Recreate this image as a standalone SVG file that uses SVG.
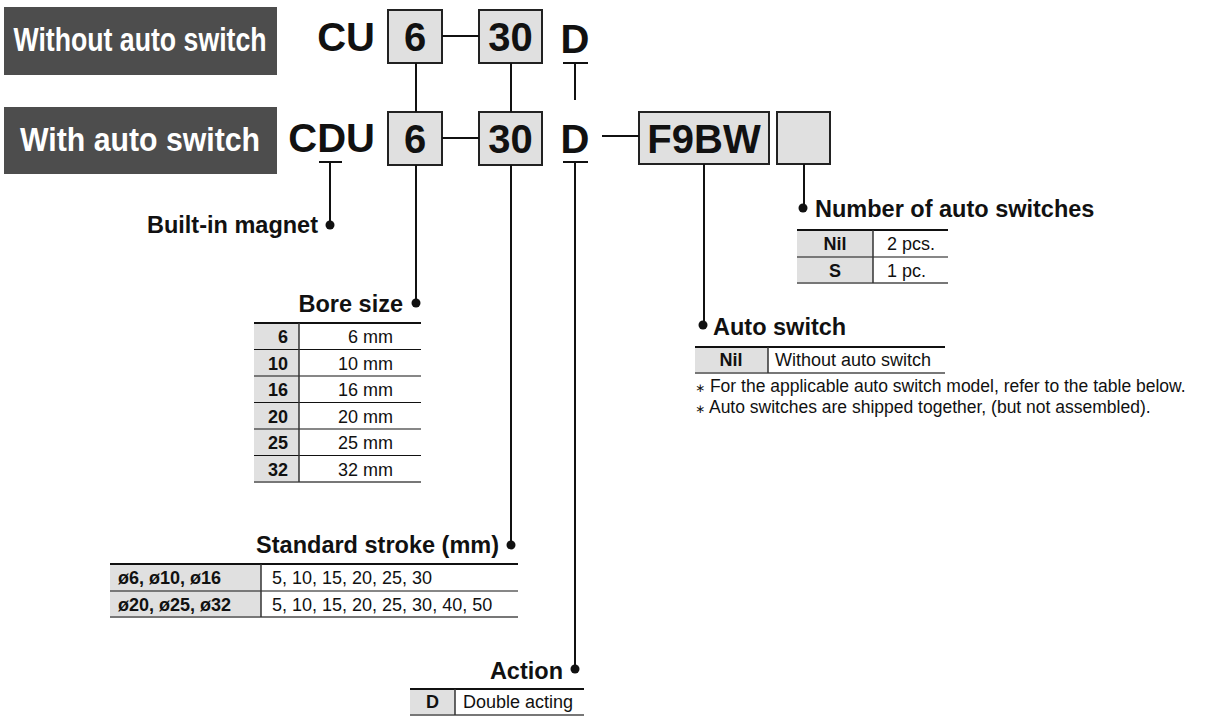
<svg xmlns="http://www.w3.org/2000/svg" width="1222" height="716" viewBox="0 0 1222 716">
<style>
.ttl{font-family:"Liberation Sans",Arial,sans-serif;font-weight:bold;font-size:34px;fill:#fff;text-anchor:middle}
.big{font-family:"Liberation Sans",Arial,sans-serif;font-weight:bold;font-size:40px;fill:#111}
.box{fill:#e0e0e0;stroke:#222;stroke-width:2}
.ln{stroke:#111;stroke-width:2;fill:none}
.hd{font-family:"Liberation Sans",Arial,sans-serif;font-weight:bold;font-size:23.5px;fill:#111}
.tb{font-family:"Liberation Sans",Arial,sans-serif;font-size:18px;fill:#111}
.tbb{font-family:"Liberation Sans",Arial,sans-serif;font-size:18px;font-weight:bold;fill:#111}
.fn{font-family:"Liberation Sans",Arial,"DejaVu Sans",sans-serif;font-size:17.5px;fill:#111}
.ast{font-size:12px}
.cell{fill:#e0e0e0}
.top{stroke:#111;stroke-width:2}
.row{stroke:#111;stroke-width:1.2}
.bot{stroke:#777;stroke-width:2}
.div{stroke:#333;stroke-width:1.5}
</style>
<rect width="1222" height="716" fill="#fff"/>

<g id="label-without">
<rect x="4" y="7" width="273" height="68" fill="#4d4d4d"/>
<text class="ttl" transform="translate(140,51) scale(0.785,1)" x="0" y="0">Without auto switch</text>
</g>
<g id="label-with">
<rect x="4" y="107" width="273" height="67" fill="#4d4d4d"/>
<text class="ttl" transform="translate(140,151) scale(0.89,1)" x="0" y="0">With auto switch</text>
</g>

<g id="row1">
<text class="big" x="375" y="51" text-anchor="end">CU</text>
<rect class="box" x="388" y="10" width="54" height="53"/>
<text class="big" x="415" y="51" text-anchor="middle">6</text>
<rect class="box" x="479" y="10" width="63" height="53"/>
<text class="big" x="510.5" y="51" text-anchor="middle">30</text>
<text class="big" x="575" y="53" text-anchor="middle">D</text>
</g>

<g id="row2">
<text class="big" x="375" y="152" text-anchor="end">CDU</text>
<rect class="box" x="388" y="112" width="54" height="53"/>
<text class="big" x="415" y="153" text-anchor="middle">6</text>
<rect class="box" x="479" y="112" width="63" height="53"/>
<text class="big" x="510.5" y="153" text-anchor="middle">30</text>
<text class="big" x="575" y="153" text-anchor="middle">D</text>
<rect class="box" x="639" y="112" width="130" height="52"/>
<text class="big" x="704" y="153" text-anchor="middle">F9BW</text>
<rect class="box" x="777" y="112" width="53" height="52"/>
</g>

<g id="connectors">
<line class="ln" x1="442" y1="36" x2="479" y2="36"/>
<line class="ln" x1="442" y1="138" x2="479" y2="138"/>
<line class="ln" x1="602" y1="136" x2="639" y2="136"/>
<line class="ln" x1="416" y1="63" x2="416" y2="112"/>
<line class="ln" x1="511" y1="63" x2="511" y2="112"/>
<line class="ln" x1="563" y1="63" x2="588" y2="63"/>
<line class="ln" x1="575" y1="63" x2="575" y2="100"/>
<line class="ln" x1="319" y1="162" x2="342" y2="162"/>
<line class="ln" x1="330" y1="162" x2="330" y2="225"/>
<line class="ln" x1="563" y1="162" x2="588" y2="162"/>
<line class="ln" x1="575" y1="162" x2="575" y2="669"/>
<line class="ln" x1="416" y1="165" x2="416" y2="303"/>
<line class="ln" x1="511" y1="165" x2="511" y2="545"/>
<line class="ln" x1="704" y1="164" x2="704" y2="325"/>
<line class="ln" x1="804" y1="164" x2="804" y2="208"/>
<circle cx="330" cy="225" r="4.5" fill="#111"/>
<circle cx="416" cy="303" r="4.5" fill="#111"/>
<circle cx="511" cy="545" r="4.5" fill="#111"/>
<circle cx="575" cy="669" r="4.5" fill="#111"/>
<circle cx="703" cy="325" r="4.5" fill="#111"/>
<circle cx="803" cy="208" r="4.5" fill="#111"/>
</g>

<g id="built-in-magnet">
<text class="hd" x="318" y="233" text-anchor="end">Built-in magnet</text>
</g>

<g id="bore-size">
<text class="hd" x="403" y="312" text-anchor="end">Bore size</text>
<rect class="cell" x="254" y="323" width="45" height="159"/>
<line class="top" x1="254" y1="323" x2="421" y2="323"/>
<line class="row" x1="254" y1="349.5" x2="421" y2="349.5"/>
<line class="row" x1="254" y1="376" x2="421" y2="376"/>
<line class="row" x1="254" y1="402.5" x2="421" y2="402.5"/>
<line class="row" x1="254" y1="429" x2="421" y2="429"/>
<line class="row" x1="254" y1="455.5" x2="421" y2="455.5"/>
<line class="bot" x1="254" y1="482" x2="421" y2="482"/>
<line class="div" x1="299" y1="323" x2="299" y2="482"/>
<g class="tbb" text-anchor="end">
<text x="288" y="343">6</text>
<text x="288" y="369.5">10</text>
<text x="288" y="396">16</text>
<text x="288" y="422.5">20</text>
<text x="288" y="449">25</text>
<text x="288" y="475.5">32</text>
</g>
<g class="tb" text-anchor="end">
<text x="393" y="343">6 mm</text>
<text x="393" y="369.5">10 mm</text>
<text x="393" y="396">16 mm</text>
<text x="393" y="422.5">20 mm</text>
<text x="393" y="449">25 mm</text>
<text x="393" y="475.5">32 mm</text>
</g>
</g>

<g id="standard-stroke">
<text class="hd" x="499" y="553" text-anchor="end">Standard stroke (mm)</text>
<rect class="cell" x="110" y="564" width="151" height="53"/>
<line class="top" x1="110" y1="564" x2="518" y2="564"/>
<line class="row" x1="110" y1="591" x2="518" y2="591"/>
<line class="bot" x1="110" y1="617" x2="518" y2="617"/>
<line class="div" x1="261" y1="564" x2="261" y2="617"/>
<text class="tbb" x="118" y="584">ø6, ø10, ø16</text>
<text class="tbb" x="118" y="610.5">ø20, ø25, ø32</text>
<text class="tb" x="272" y="584">5, 10, 15, 20, 25, 30</text>
<text class="tb" x="272" y="610.5">5, 10, 15, 20, 25, 30, 40, 50</text>
</g>

<g id="action">
<text class="hd" x="563" y="679" text-anchor="end">Action</text>
<rect class="cell" x="410" y="689" width="45" height="26"/>
<line class="top" x1="410" y1="689" x2="584" y2="689"/>
<line class="bot" x1="410" y1="715" x2="584" y2="715"/>
<line class="div" x1="455" y1="689" x2="455" y2="715"/>
<text class="tbb" x="432.5" y="708" text-anchor="middle">D</text>
<text class="tb" x="463" y="708">Double acting</text>
</g>

<g id="number-of-auto-switches">
<text class="hd" x="815" y="217">Number of auto switches</text>
<rect class="cell" x="797" y="230" width="76" height="53"/>
<line class="top" x1="797" y1="230" x2="948" y2="230"/>
<line class="row" x1="797" y1="257" x2="948" y2="257"/>
<line class="bot" x1="797" y1="283" x2="948" y2="283"/>
<line class="div" x1="873" y1="230" x2="873" y2="283"/>
<text class="tbb" x="835" y="250" text-anchor="middle">Nil</text>
<text class="tbb" x="835" y="276.5" text-anchor="middle">S</text>
<text class="tb" x="887" y="250">2 pcs.</text>
<text class="tb" x="887" y="276.5">1 pc.</text>
</g>

<g id="auto-switch">
<text class="hd" x="713" y="335">Auto switch</text>
<rect class="cell" x="695" y="347" width="73" height="26"/>
<line class="top" x1="695" y1="347" x2="945" y2="347"/>
<line class="bot" x1="695" y1="373" x2="945" y2="373"/>
<line class="div" x1="768" y1="347" x2="768" y2="373"/>
<text class="tbb" x="731" y="366" text-anchor="middle">Nil</text>
<text class="tb" x="775" y="366">Without auto switch</text>
<text class="fn" x="695" y="392"><tspan class="ast">∗</tspan> For the applicable auto switch model, refer to the table below.</text>
<text class="fn" x="695" y="413"><tspan class="ast">∗</tspan> Auto switches are shipped together, (but not assembled).</text>
</g>
</svg>
